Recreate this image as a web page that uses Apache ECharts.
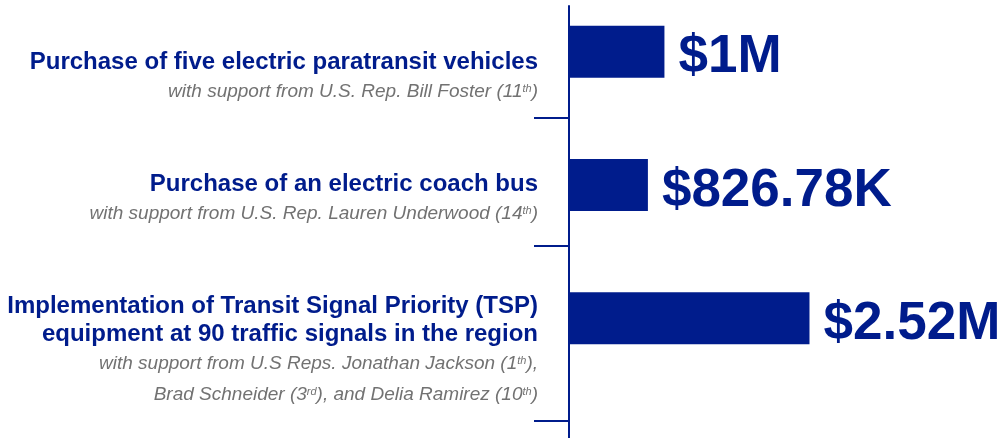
<!DOCTYPE html>
<html>
<head>
<meta charset="utf-8">
<script src="https://cdn.jsdelivr.net/npm/echarts@6/dist/echarts.min.js"></script>
<style>
  html, body { margin: 0; padding: 0; background: #ffffff; }
  #chart { width: 1008px; height: 438px; }
</style>
</head>
<body>
<div id="chart"></div>
<script>
// projects, top to bottom
const titles = [
  "Purchase of five electric paratransit vehicles",
  "Purchase of an electric coach bus",
  "Implementation of Transit Signal Priority (TSP)\nequipment at 90 traffic signals in the region",
];
// ^..^ marks a superscript
const supportLines = [
  "with support from U.S. Rep. Bill Foster (11^th^)",
  "with support from U.S. Rep. Lauren Underwood (14^th^)",
  "with support from U.S Reps. Jonathan Jackson (1^th^),\nBrad Schneider (3^rd^), and Delia Ramirez (10^th^)",
];
const amounts = [1000000, 826780, 2520000];

const NAVY = "#001C8C";
const GREY = "#727272";
const FONT = "'Liberation Sans', Arial, Helvetica, sans-serif";

// push each label block down so it sits under its bar like in the original layout
const labelPadTop = [52, 30, 66];

const formatMoney = (v) => {
  if (v >= 1e6) return "$" + +(v / 1e6).toFixed(2) + "M";
  return "$" + +(v / 1e3).toFixed(2) + "K";
};

const richLine = (line) =>
  "{s|" + line.replace(/\^(\w+)\^/g, "}{sup|$1}{s|") + "}";

const labelText = (i) => {
  const t = titles[i].split("\n").map((l) => "{t|" + l + "}");
  const s = supportLines[i].split("\n").map(richLine);
  return t.concat(s).join("\n");
};

const categoryData = titles.map((_, i) => ({
  value: labelText(i),
  textStyle: { padding: [labelPadTop[i], 0, 0, 0] },
}));

const chart = echarts.init(document.getElementById("chart"));

chart.setOption({
  animation: false,
  grid: [
    { left: 569, right: 0, top: -15, height: 400, outerBoundsMode: "none" },
    { left: 569, right: 0, top: 6, bottom: 0, outerBoundsMode: "none" },
  ],
  xAxis: [
    { type: "value", gridIndex: 0, min: 0, max: 4600000, show: false },
    { type: "value", gridIndex: 1, min: 0, max: 1, show: false },
  ],
  yAxis: [
    {
      type: "category",
      gridIndex: 0,
      inverse: true,
      data: categoryData,
      axisLine: { show: false },
      axisTick: { show: false },
      splitLine: { show: false },
      axisLabel: {
        margin: 31,
        align: "right",
        formatter: (v) => v,
        rich: {
          t: {
            fontFamily: FONT,
            fontSize: 24,
            fontWeight: "bold",
            color: NAVY,
            lineHeight: 28,
          },
          s: {
            fontFamily: FONT,
            fontSize: 19,
            fontStyle: "italic",
            color: GREY,
            lineHeight: 31,
          },
          sup: {
            fontFamily: FONT,
            fontSize: 11,
            fontStyle: "italic",
            color: GREY,
            padding: [0, 0, 6, 0],
          },
        },
      },
    },
    {
      // plain axis line with its tick marks
      type: "value",
      gridIndex: 1,
      inverse: true,
      min: 0,
      max: 432,
      axisLine: { show: true, lineStyle: { color: NAVY, width: 2 } },
      axisTick: {
        show: true,
        length: 35,
        customValues: [112, 240, 415],
        lineStyle: { color: NAVY, width: 2 },
      },
      axisLabel: { show: false },
      splitLine: { show: false },
    },
  ],
  series: [
    {
      type: "bar",
      xAxisIndex: 0,
      yAxisIndex: 0,
      data: amounts,
      barWidth: 52,
      itemStyle: { color: NAVY },
      label: {
        show: true,
        position: "right",
        distance: 14,
        offset: [0, 6],
        formatter: (p) => formatMoney(p.value),
        fontFamily: FONT,
        fontSize: 53,
        fontWeight: "bold",
        color: NAVY,
      },
    },
  ],
});
</script>
</body>
</html>
